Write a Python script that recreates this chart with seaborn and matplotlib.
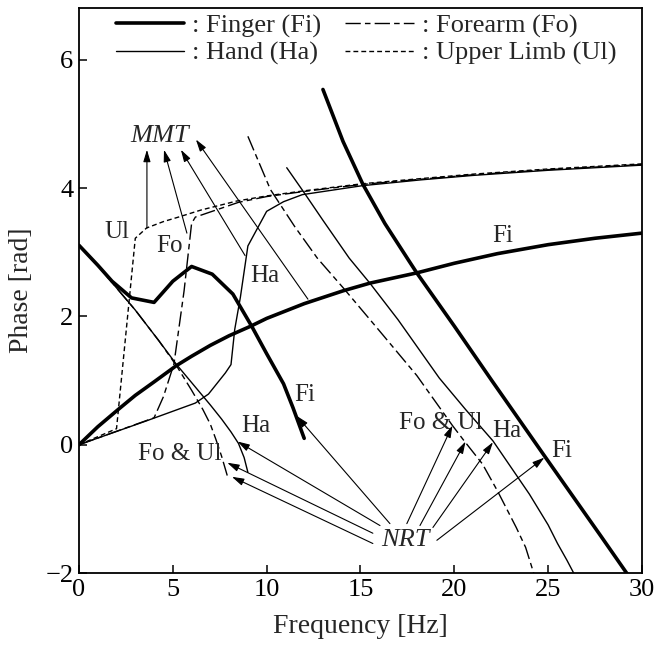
import matplotlib
matplotlib.use("Agg")
import matplotlib.pyplot as plt
import seaborn as sns
from matplotlib.lines import Line2D

# ---- data (x: Hz, y: rad) ----
# MMT curves (rising)
fi_mmt_x = [0, 1, 2.13, 3, 4, 5.17, 6, 7, 8, 9.16, 10, 12, 14.07, 15.5, 18, 20, 22.3, 25, 27.5, 30]
fi_mmt_y = [0, 0.28, 0.56, 0.77, 0.98, 1.23, 1.38, 1.55, 1.7, 1.85, 1.97, 2.2, 2.4, 2.52, 2.68, 2.83, 2.98, 3.12, 3.22, 3.3]
ha_mmt_x = [0, 3.57, 6.2, 6.9, 7.8, 8.1, 8.3, 8.6, 9.0, 10.0, 10.9, 11.9, 15.1, 18.2, 21, 25, 30]
ha_mmt_y = [0, 0.37, 0.65, 0.79, 1.12, 1.25, 1.8, 2.3, 3.1, 3.64, 3.79, 3.9, 4.04, 4.13, 4.2, 4.28, 4.36]
fo_mmt_x = [0, 4, 4.5, 5.06, 5.6, 6.0, 6.2, 7.1, 8.5, 10, 12, 15.1, 18.2, 21, 25, 30]
fo_mmt_y = [0, 0.42, 0.75, 1.26, 2.4, 3.45, 3.55, 3.64, 3.78, 3.87, 3.95, 4.06, 4.14, 4.21, 4.29, 4.37]
ul_mmt_x = [0, 2, 3, 3.6, 4.5, 5.3, 6.5, 8.4, 10, 12, 15.1, 18.2, 21, 25, 30]
ul_mmt_y = [0, 0.25, 3.22, 3.38, 3.48, 3.55, 3.66, 3.8, 3.88, 3.96, 4.07, 4.15, 4.22, 4.3, 4.38]

# NRT curves, low-frequency branch
fi_nrt_lo_x = [0, 1, 1.76, 2.8, 4.0, 5.0, 6.0, 7.1, 8.2, 9.2, 10.0, 10.9, 11.4, 12.0]
fi_nrt_lo_y = [3.11, 2.8, 2.55, 2.29, 2.22, 2.55, 2.78, 2.66, 2.35, 1.85, 1.42, 0.95, 0.58, 0.1]
ha_nrt_lo_x = [0, 1, 1.7, 3, 4.26, 5.2, 6.2, 7.0, 7.6, 8.1, 8.5, 8.8, 9.0]
ha_nrt_lo_y = [3.11, 2.8, 2.55, 2.1, 1.62, 1.25, 0.9, 0.62, 0.4, 0.2, 0.02, -0.2, -0.43]
foul_nrt_lo_x = [0, 1, 1.7, 3, 4.26, 5.2, 6.0, 6.6, 7.0, 7.3, 7.6, 7.9]
foul_nrt_lo_y = [3.11, 2.8, 2.55, 2.1, 1.62, 1.23, 0.85, 0.55, 0.32, 0.08, -0.18, -0.48]

# NRT curves, high-frequency branch
fi_nrt_hi_x = [13.0, 14.07, 15.13, 16.3, 17.6, 18.0, 20, 22, 24.7, 27.8, 29.3]
fi_nrt_hi_y = [5.54, 4.73, 4.06, 3.45, 2.86, 2.68, 1.85, 1.0, -0.13, -1.42, -2.05]
ha_nrt_hi_x = [11.07, 12.0, 13.0, 14.4, 15.5, 17.0, 19.2, 20.6, 22.06, 24.0, 25.0, 25.5, 26.0, 26.45]
ha_nrt_hi_y = [4.32, 3.93, 3.5, 2.91, 2.52, 1.95, 1.04, 0.55, 0.06, -0.77, -1.25, -1.54, -1.8, -2.05]
foul_nrt_hi_x = [9.0, 10.2, 11.5, 12.7, 14.07, 16, 18, 19.9, 20.5, 21.5, 22.3, 23.3, 23.8, 24.25]
foul_nrt_hi_y = [4.81, 3.98, 3.4, 2.91, 2.45, 1.78, 1.08, 0.3, 0.07, -0.3, -0.72, -1.29, -1.6, -2.02]

x_ticks = [0, 5, 10, 15, 20, 25, 30]
y_ticks = [-2, 0, 2, 4, 6]

sns.set_theme(style="white")
plt.rcParams["font.family"] = ["Liberation Serif", "DejaVu Serif"]

THICK = dict(color="black", lw=2.6)
THIN = dict(color="black", lw=1.0)
FO = dict(color="black", lw=1.0, linestyle=(0, (11, 3, 4, 3)))
UL = dict(color="black", lw=1.0, linestyle=(0, (3.5, 2.2)))

fig = plt.figure(figsize=(6.55, 6.53), dpi=100)
ax = fig.add_axes([0.1206, 0.1225, 0.8595, 0.8652])


def line(x, y, style):
    sns.lineplot(x=x, y=y, ax=ax, sort=False, estimator=None, **style)


line(fi_mmt_x, fi_mmt_y, THICK)
line(ha_mmt_x, ha_mmt_y, THIN)
line(fo_mmt_x, fo_mmt_y, FO)
line(ul_mmt_x, ul_mmt_y, UL)

line(fi_nrt_lo_x, fi_nrt_lo_y, THICK)
line(ha_nrt_lo_x, ha_nrt_lo_y, THIN)
line(foul_nrt_lo_x, foul_nrt_lo_y, FO)

line(fi_nrt_hi_x, fi_nrt_hi_y, THICK)
line(ha_nrt_hi_x, ha_nrt_hi_y, THIN)
line(foul_nrt_hi_x, foul_nrt_hi_y, FO)

ax.set_xlim(0, 30)
ax.set_ylim(-2, 6.81)
ax.set_xticks(x_ticks)
ax.set_yticks(y_ticks)
ax.set_xticklabels([str(t) for t in x_ticks])
ax.set_yticklabels([str(t).replace("-", "\u2212") for t in y_ticks])
ax.tick_params(direction="in", length=6, width=1.1, labelsize=19, pad=4,
               top=False, right=False, left=True, bottom=True, colors="black")
for s in ax.spines.values():
    s.set_color("black")
    s.set_linewidth(1.3)
ax.set_xlabel("Frequency [Hz]", fontsize=20, labelpad=10)
ax.set_ylabel("Phase [rad]", fontsize=20, labelpad=8)

# curve labels
lbl = dict(fontsize=18, ha="center", va="center")
ax.text(2.05, 3.31, "Ul", **lbl)
ax.text(4.8, 3.1, "Fo", **lbl)
ax.text(9.9, 2.63, "Ha", **lbl)
ax.text(22.6, 3.26, "Fi", **lbl)
ax.text(12.05, 0.78, "Fi", **lbl)
ax.text(9.4, 0.3, "Ha", **lbl)
ax.text(5.35, -0.15, "Fo & Ul", **lbl)
ax.text(19.3, 0.34, "Fo & Ul", **lbl)
ax.text(22.8, 0.22, "Ha", **lbl)
ax.text(25.7, -0.1, "Fi", **lbl)

ax.text(4.3, 4.82, "MMT", fontsize=19, fontstyle="italic", ha="center", va="center")
ax.text(17.4, -1.49, "NRT", fontsize=19, fontstyle="italic", ha="center", va="center")

arrow = dict(arrowstyle="-|>,head_length=0.6,head_width=0.18", color="black",
             lw=0.8, shrinkA=0, shrinkB=0, mutation_scale=12)

# MMT arrows: from a curve point up to the MMT text
mmt_tails = [(3.62, 3.38), (5.75, 3.3), (8.85, 2.95), (12.2, 2.27)]
mmt_heads = [(3.62, 4.6), (4.53, 4.6), (5.43, 4.6), (6.23, 4.76)]
for tail, head in zip(mmt_tails, mmt_heads):
    ax.annotate("", xy=head, xytext=tail, arrowprops=arrow)

# NRT arrows: from the NRT text to a curve point
nrt_tails = [(16.57, -1.23), (16.04, -1.26), (15.66, -1.38), (15.66, -1.54),
             (17.47, -1.23), (18.17, -1.26), (18.86, -1.29), (19.07, -1.49)]
nrt_heads = [(11.6, 0.45), (8.45, 0.05), (7.9, -0.28), (8.15, -0.5),
             (19.9, 0.3), (20.6, 0.05), (22.06, 0.04), (24.8, -0.2)]
for tail, head in zip(nrt_tails, nrt_heads):
    ax.annotate("", xy=head, xytext=tail, arrowprops=arrow)

handles = [Line2D([], [], **THICK), Line2D([], [], **THIN),
           Line2D([], [], **FO), Line2D([], [], **UL)]
labels = [": Finger (Fi)", ": Hand (Ha)", ": Forearm (Fo)", ": Upper Limb (Ul)"]
ax.legend(handles, labels, loc="upper left", bbox_to_anchor=(0.065, 0.99), ncol=2,
          frameon=False, fontsize=19, handlelength=2.6, handletextpad=0.3,
          columnspacing=0.9, borderpad=0, borderaxespad=0, labelspacing=0.15)

fig.savefig("out.png", dpi=100)
